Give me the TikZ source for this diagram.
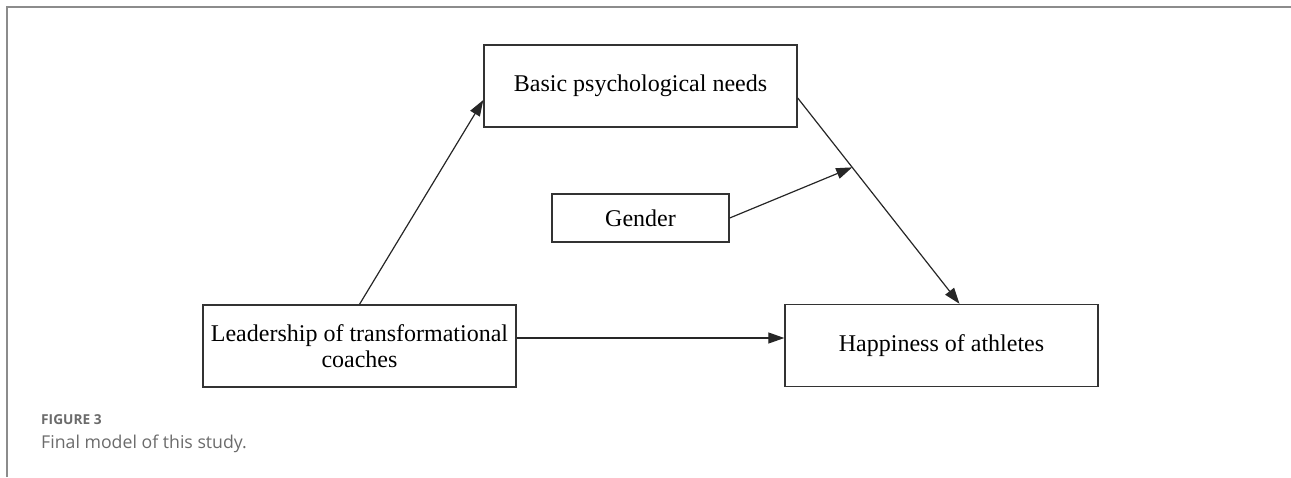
\documentclass[tikz,border=0pt]{standalone}
\usepackage{fontspec}
\setmainfont{Liberation Serif}
\newfontfamily\capfont{Open Sans}
\usetikzlibrary{arrows.meta}
\begin{document}
\begin{tikzpicture}[x=1pt,y=-1pt,
	box/.style={draw=black!80, line width=1.4pt, minimum width=313pt, minimum height=82pt, align=center, inner sep=0pt, font=\fontsize{24}{26}\selectfont},
	link/.style={-{Triangle[length=16pt,width=11pt]}, line width=1.2pt, draw=black!85},
	caption/.style={anchor=base west, inner sep=0pt, text=black!58}]
	\useasboundingbox (0,0) rectangle (1291,477);
	\draw[line width=1.5pt, black!45] (7,477) -- (7,7) -- (1291,7);
	
	\node[box] (bpn) at (640.5,86) {Basic psychological needs};
	\node[box, minimum width=177pt, minimum height=48pt] (gender) at (640.5,218) {Gender};
	\node[box] (lead) at (359.5,346) {Leadership of transformational\\coaches};
	\node[box] (hap) at (941.5,345.5) {Happiness of athletes};
	
	\draw[link] (lead.north) -- ([yshift=-14pt]bpn.west);
	\draw[link] ([yshift=-12pt]bpn.east) -- coordinate[pos=0.337] (mod) ([xshift=18pt]hap.north);
	\draw[link] (gender.east) -- (mod);
	\draw[link] ([yshift=8pt]lead.east) -- ([yshift=8pt]lead.east -| hap.west);
	
	\node[caption, font=\capfont\bfseries\fontsize{13.7}{15}\selectfont] (fig) at (41,424) {FIGURE 3};
	\node[caption, font=\capfont\fontsize{17.7}{20}\selectfont] (cap) at (41,448) {Final model of this study.};
\end{tikzpicture}
\end{document}
